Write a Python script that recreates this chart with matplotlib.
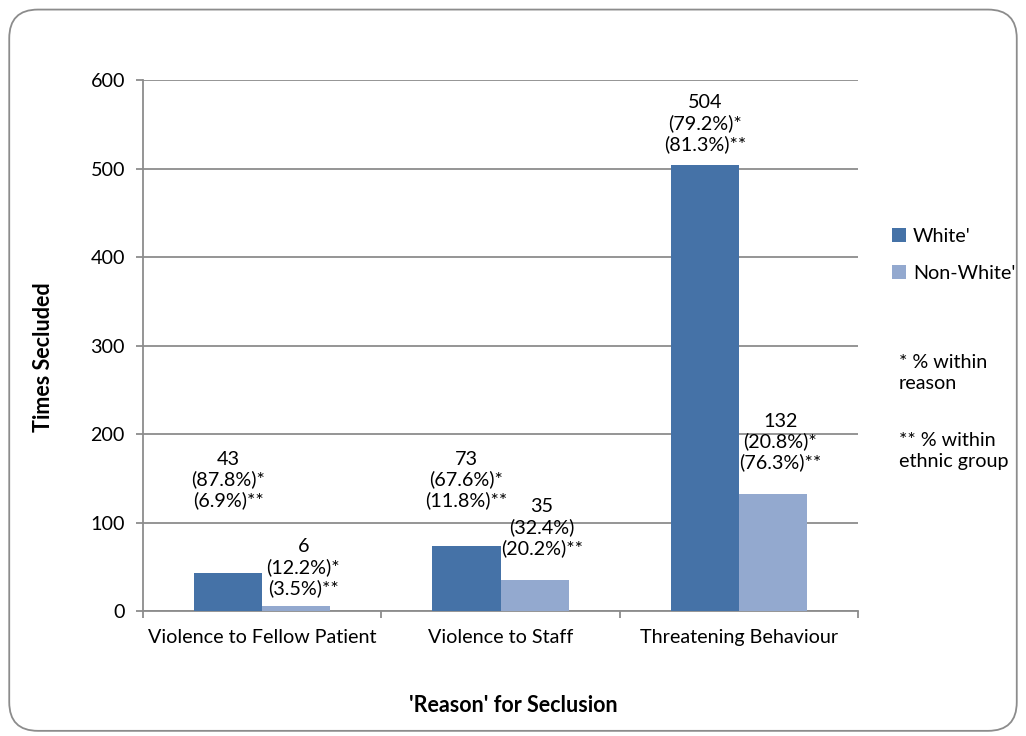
import matplotlib.pyplot as plt
from matplotlib.patches import FancyBboxPatch
import numpy as np

plt.rcParams['font.family'] = ['Lato', 'DejaVu Sans']

reasons = ["Violence to Fellow Patient", "Violence to Staff", "Threatening Behaviour"]
white = [43, 73, 504]
non_white = [6, 35, 132]
white_labels = ["43\n(87.8%)*\n(6.9%)**", "73\n(67.6%)*\n(11.8%)**", "504\n(79.2%)*\n(81.3%)**"]
non_white_labels = ["6\n(12.2%)*\n(3.5%)**", "35\n(32.4%)\n(20.2%)**", "132\n(20.8%)*\n(76.3%)**"]
# label centres (in data units) as placed by hand in the original
white_label_y = [148, 148, 551]
non_white_label_y = [49, 94, 191]

c_white = "#4572A7"
c_non = "#93A9CF"
grey = "#8c8c8c"
fs = 14.2
fsb = 15.5

fig = plt.figure(figsize=(10.26, 7.36), dpi=100)
ax = fig.add_axes([0.1394, 0.1698, 0.8363 - 0.1394, 0.8913 - 0.1698])

# rounded border round the whole chart
border = FancyBboxPatch((0.009, 0.007), 0.982, 0.98, boxstyle="round,pad=0,rounding_size=0.028",
                        transform=fig.transFigure, fill=False, edgecolor=grey, linewidth=1.3,
                        mutation_aspect=1026 / 736)
fig.patches.append(border)

x = np.arange(len(reasons))
w = 0.286
ax.bar(x - w / 2, white, w, color=c_white, label="White'", zorder=3)
ax.bar(x + w / 2, non_white, w, color=c_non, label="Non-White'", zorder=3)

for i in range(len(x)):
    ax.text(x[i] - w / 2, white_label_y[i], white_labels[i], ha="center", va="center",
            fontsize=fs, linespacing=1.2)
    ax.text(x[i] + w / 2 + 0.03, non_white_label_y[i], non_white_labels[i], ha="center", va="center",
            fontsize=fs, linespacing=1.2)

ax.set_xlim(-0.5, 2.5)
ax.set_ylim(0, 600)
ax.set_yticks(range(0, 601, 100))
ax.yaxis.grid(True, color=grey, linewidth=1.3, zorder=0)
ax.set_axisbelow(True)

ax.set_xticks(x)
ax.set_xticklabels(reasons, fontsize=fs)
ax.set_xticks([-0.5, 0.5, 1.5, 2.5], minor=True)
ax.tick_params(axis="x", which="major", length=0, pad=13)
ax.tick_params(axis="x", which="minor", length=5, color=grey, width=1.3, direction="out")
ax.tick_params(axis="y", length=5, color=grey, width=1.3, pad=8, labelsize=fs)

for s in ["top", "right"]:
    ax.spines[s].set_visible(False)
for s in ["left", "bottom"]:
    ax.spines[s].set_color(grey)
    ax.spines[s].set_linewidth(1.3)

ax.set_ylabel("Times Secluded", fontsize=fsb, fontweight="bold")
ax.yaxis.set_label_coords(-0.124, 0.478)
fig.text(0.5, 1 - 705 / 736, "'Reason' for Seclusion", ha="center", va="center",
         fontsize=fsb, fontweight="bold")

fig.legend(loc="upper left", bbox_to_anchor=(0.862, 1 - 220 / 736), frameon=False,
           fontsize=fs, handlelength=0.7, handleheight=0.7, handletextpad=0.35,
           labelspacing=1.0, borderaxespad=0)

fig.text(0.876, 1 - 373 / 736, "* % within\nreason", ha="left", va="center",
         fontsize=fs, linespacing=1.35)
fig.text(0.876, 1 - 451 / 736, "** % within\nethnic group", ha="left", va="center",
         fontsize=fs, linespacing=1.35)

fig.savefig("out.png", dpi=100)
